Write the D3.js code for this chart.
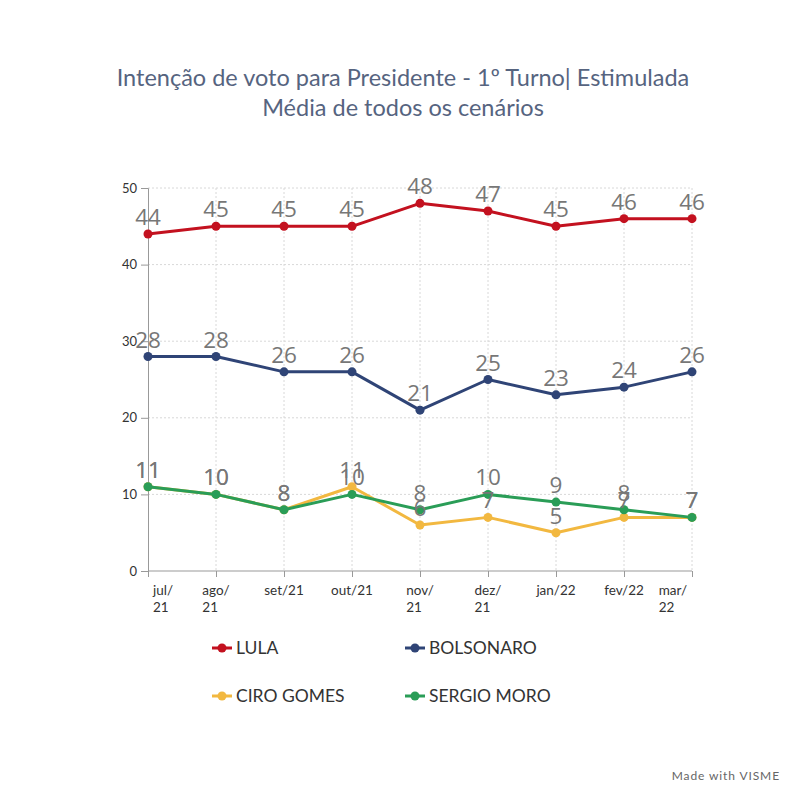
<!DOCTYPE html>
<html><head><meta charset="utf-8">
<script src="https://cdn.jsdelivr.net/npm/d3@7"></script>
<style>body{margin:0;background:#fff;}svg{display:block;}</style>
</head><body>
<script>
const months = ["jul/21","ago/21","set/21","out/21","nov/21","dez/21","jan/22","fev/22","mar/22"];
const monthLines = [["jul/","21"],["ago/","21"],["set/21"],["out/21"],["nov/","21"],["dez/","21"],["jan/22"],["fev/22"],["mar/","22"]];
const lula = [44,45,45,45,48,47,45,46,46];
const bolsonaro = [28,28,26,26,21,25,23,24,26];
const ciro = [11,10,8,11,6,7,5,7,7];
const moro = [11,10,8,10,8,10,9,8,7];
const yTicks = [0,10,20,30,40,50];
const seriesNames = ["LULA","BOLSONARO","CIRO GOMES","SERGIO MORO"];
const seriesColors = ["#c3111f","#2f4476","#f2b840","#2a9d57"];

const series = [
  {name: seriesNames[0], color: seriesColors[0], values: lula},
  {name: seriesNames[1], color: seriesColors[1], values: bolsonaro},
  {name: seriesNames[2], color: seriesColors[2], values: ciro},
  {name: seriesNames[3], color: seriesColors[3], values: moro}
];

const W = 800, H = 800;
const svg = d3.select("body").append("svg").attr("width", W).attr("height", H);
svg.append("rect").attr("width", W).attr("height", H).attr("fill", "#fff");

// Title
const titleColor = "#56647f";
svg.append("text").attr("x", 403).attr("y", 86).attr("text-anchor","middle")
  .attr("font-family","Lato").attr("font-size",23.5).attr("fill",titleColor)
  .text("Intenção de voto para Presidente - 1º Turno| Estimulada");
svg.append("text").attr("x", 403).attr("y", 116).attr("text-anchor","middle")
  .attr("font-family","Lato").attr("font-size",23.5).attr("fill",titleColor)
  .text("Média de todos os cenários");

const x = d3.scalePoint().domain(months).range([148, 692]);
const y = d3.scaleLinear().domain([0, 50]).range([571, 188]);

// grid
const grid = svg.append("g");
grid.selectAll("line.h").data(yTicks.filter(d => d > 0)).join("line")
  .attr("x1", 148).attr("x2", 692).attr("y1", d => y(d)).attr("y2", d => y(d))
  .attr("stroke", "#d8d8d8").attr("stroke-dasharray", "2,2").attr("stroke-width", 1);
grid.selectAll("line.v").data(months.slice(1)).join("line")
  .attr("x1", d => x(d)).attr("x2", d => x(d)).attr("y1", y(50)).attr("y2", y(0))
  .attr("stroke", "#d8d8d8").attr("stroke-dasharray", "2,2").attr("stroke-width", 1);

// y axis
const yAxis = svg.append("g").attr("transform", "translate(148,0)")
  .call(d3.axisLeft(y).tickValues(yTicks).tickSize(7).tickPadding(4));
yAxis.select(".domain").attr("stroke", "#999");
yAxis.selectAll(".tick line").attr("stroke", "#999");
yAxis.selectAll(".tick text").attr("font-family","Lato").attr("font-size",13).attr("fill","#333");

// x axis
const xAxis = svg.append("g").attr("transform", "translate(0,571)")
  .call(d3.axisBottom(x).tickSize(6).tickFormat(""));
xAxis.select(".domain").attr("stroke", "#999").attr("d", "M148,0H692");
xAxis.selectAll(".tick line").attr("stroke", "#999");

// x labels (wrapped)
const xl = svg.append("g");
months.forEach((m, i) => {
  const lines = monthLines[i];
  const t = xl.append("text").attr("font-family","Lato").attr("font-size",13.5).attr("fill","#333");
  let w = 0;
  lines.forEach((ln, j) => {
    const ts = t.append("tspan").attr("x", 0).attr("y", 595 + j*17).text(ln);
    w = Math.max(w, ts.node().getComputedTextLength());
  });
  let left = x(m) - w/2;
  if (left < 153) left = 153;
  if (left + w > 687) left = 687 - w;
  t.selectAll("tspan").attr("x", left);
});

// lines
const line = d3.line().x((d, i) => x(months[i])).y(d => y(d));
series.forEach(s => {
  const g = svg.append("g");
  g.append("path").attr("d", line(s.values)).attr("fill","none")
    .attr("stroke", s.color).attr("stroke-width", 3).attr("stroke-linejoin","round");
  g.selectAll("circle").data(s.values).join("circle")
    .attr("cx", (d, i) => x(months[i])).attr("cy", d => y(d)).attr("r", 4.5)
    .attr("fill", s.color);
});
// value labels
series.forEach(s => {
  svg.append("g").selectAll("text").data(s.values).join("text")
    .attr("x", (d, i) => x(months[i])).attr("y", d => y(d) - 9)
    .attr("text-anchor","middle").attr("font-family","Open Sans")
    .attr("font-size",22.5).attr("fill","#777").text(d => d);
});

// legend
const legPos = [[212,648],[405,648],[212,696],[405,696]];
series.forEach((s, i) => {
  const [lx, ly] = legPos[i];
  const g = svg.append("g").attr("transform", `translate(${lx},${ly})`);
  g.append("line").attr("x1",0).attr("x2",20).attr("y1",0).attr("y2",0)
    .attr("stroke", s.color).attr("stroke-width",3);
  g.append("circle").attr("cx",10).attr("cy",0).attr("r",4.5).attr("fill",s.color);
  g.append("text").attr("x",24).attr("y",6).attr("font-family","Lato").attr("font-size",17.5)
    .attr("fill","#333").text(s.name);
});

// footer
svg.append("text").attr("x", 780).attr("y", 780).attr("text-anchor","end")
  .attr("font-family","Lato").attr("font-size",12).attr("fill","#666").attr("letter-spacing",0.9)
  .text("Made with VISME");
</script>
</body></html>
